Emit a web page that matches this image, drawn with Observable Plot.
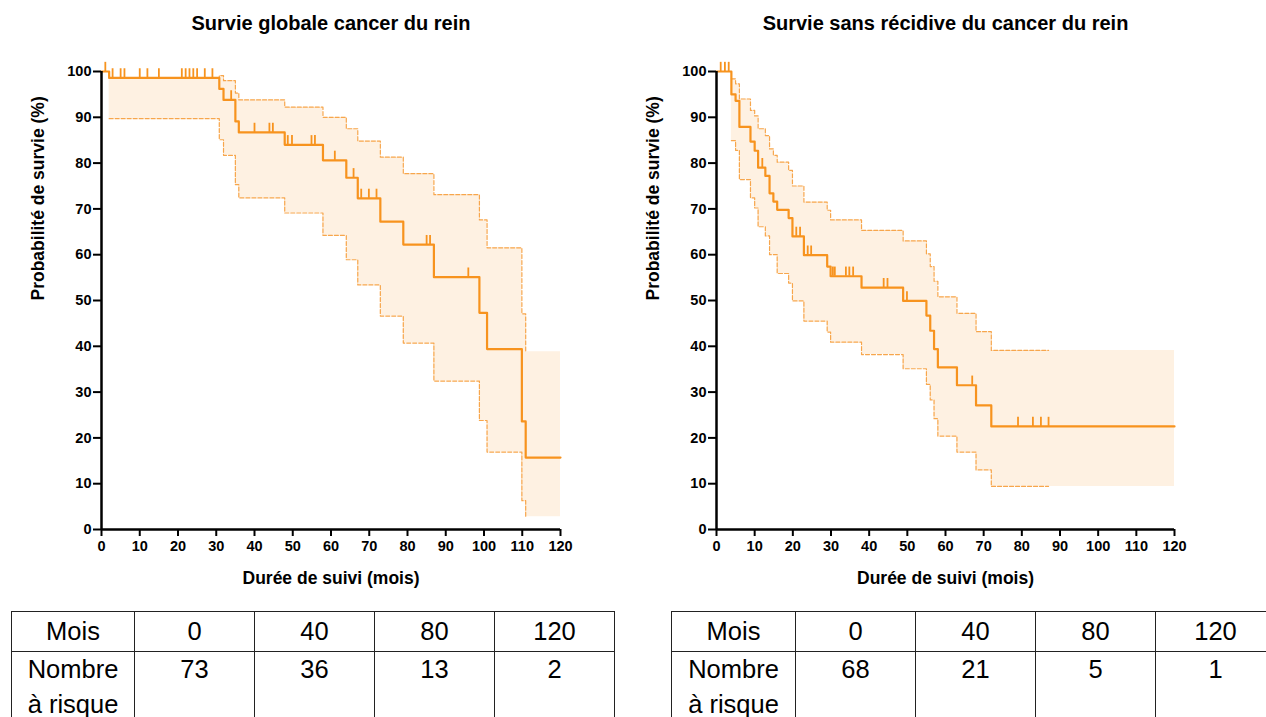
<!DOCTYPE html>
<html><head><meta charset="utf-8">
<script src="https://cdn.jsdelivr.net/npm/d3@7"></script>
<script src="https://cdn.jsdelivr.net/npm/@observablehq/plot@0.6"></script>
<style>
html,body{margin:0;padding:0;background:#fff;}
#page{position:relative;width:1266px;height:717px;overflow:hidden;font-family:"Liberation Sans",Arial,sans-serif;}
.chart{position:absolute;top:0;}
table.risk{position:absolute;top:611px;border-collapse:collapse;font-size:25.5px;table-layout:fixed;color:#000;}
table.risk td{border:1px solid #222;text-align:center;vertical-align:top;padding:0;}
table.risk tr.h td{height:39px;line-height:39px;}
table.risk tr.n td{height:90px;line-height:35px;}
</style></head><body><div id="page"></div>
<script>
// ---------- Data ----------
const xTicks = [0,10,20,30,40,50,60,70,80,90,100,110,120];
const yTicks = [0,10,20,30,40,50,60,70,80,90,100];
const xLabel = "Durée de suivi (mois)";
const yLabel = "Probabilité de survie (%)";

// Survie globale
const osTitle = "Survie globale cancer du rein";
const osTime = [0, 2.0, 30.8, 31.9, 35.0, 35.9, 47.9, 57.9, 64.0, 67.0, 72.9, 78.9, 86.9, 98.8, 100.8, 109.9, 110.9, 120];
const osSurv = [100, 98.6, 96.2, 93.8, 89.1, 86.7, 84.0, 80.6, 76.8, 72.3, 67.2, 62.2, 55.1, 47.3, 39.4, 23.6, 15.7, 15.7];
const osCiTime = [2.0, 30.8, 31.9, 35.0, 35.9, 47.9, 57.9, 64.0, 67.0, 72.9, 78.9, 86.9, 98.8, 100.8, 109.9, 110.9, 120];
const osCiHigh = [98.6, 99.1, 98.0, 95.3, 93.8, 92.2, 90.0, 87.5, 84.8, 81.3, 77.7, 73.1, 67.6, 61.5, 47.1, 38.8, 38.8];
const osCiLow  = [89.7, 85.1, 81.7, 75.3, 72.4, 69.1, 64.2, 58.9, 53.4, 46.6, 40.7, 32.4, 23.8, 16.9, 6.3, 2.8, 2.8];
const osCensored = [1.0, 2.9, 5.0, 6.0, 10.0, 12.0, 15.0, 21.0, 22.0, 23.0, 24.0, 25.0, 27.0, 29.0, 33.9, 40.0, 43.9, 44.8, 48.7, 49.8, 54.9, 55.8, 61.0, 65.9, 67.9, 69.9, 71.9, 85.0, 85.9, 95.9];

// Survie sans récidive
const rfsTitle = "Survie sans récidive du cancer du rein";
const rfsTime = [0, 3.9, 5.0, 6.0, 8.9, 10.0, 10.9, 12.8, 13.9, 14.9, 15.9, 18.9, 19.9, 22.9, 29.0, 29.9, 38.0, 48.9, 55.0, 56.0, 57.0, 58.0, 63.0, 68.0, 72.0, 120];
const rfsSurv = [100, 95.0, 93.6, 87.9, 84.7, 82.7, 79.0, 77.2, 73.4, 71.6, 69.8, 68.0, 64.0, 59.9, 57.4, 55.3, 52.8, 49.9, 46.7, 43.4, 39.4, 35.4, 31.5, 27.1, 22.5, 22.5];
const rfsCiTime = [3.9, 5.0, 6.0, 8.9, 10.0, 10.9, 12.8, 13.9, 14.9, 15.9, 18.9, 19.9, 22.9, 29.0, 29.9, 38.0, 48.9, 55.0, 56.0, 57.0, 58.0, 63.0, 68.0, 72.0, 87.0, 120];
const rfsCiHigh = [98.4, 97.3, 94.0, 91.5, 90.3, 87.5, 86.0, 83.1, 81.7, 80.2, 78.4, 75.0, 71.5, 69.7, 67.6, 65.3, 63.0, 60.2, 57.4, 54.2, 50.8, 47.2, 43.2, 39.1, 39.1, 39.1];
const rfsCiLow  = [84.9, 82.8, 76.4, 72.4, 70.2, 66.1, 64.1, 60.0, 60.0, 55.9, 53.8, 49.9, 45.5, 43.1, 40.9, 38.2, 35.1, 31.7, 28.3, 24.2, 20.4, 16.9, 13.0, 9.4, 9.4, 9.4];
const rfsCensored = [1.1, 2.2, 3.2, 12.0, 20.9, 21.9, 23.9, 24.8, 30.5, 31.0, 33.9, 34.8, 35.8, 43.8, 44.8, 49.9, 67.0, 79.0, 82.9, 85.0, 87.0];

// Tableaux "Nombre à risque"
const riskMonths = [0, 40, 80, 120];
const osAtRisk = [73, 36, 13, 2];
const rfsAtRisk = [68, 21, 5, 1];

// ---------- Styles ----------
const MAIN = "#F7931E";
const FILL = "#FEF1E2";
const DASH = "#F7A64C";
const FONT = "'Liberation Sans', Arial, sans-serif";

function kmChart({title, time, surv, ciTime, ciLow, ciHigh, censored, marginLeft, marginRight}) {
  const curve = time.map((t, i) => ({t, s: surv[i]}));
  const band = ciTime.map((t, i) => ({t, lo: ciLow[i], hi: ciHigh[i]}));
  const dashed = band.slice(0, -1);
  const bis = d3.bisector(d => d.t).right;
  const cens = censored.map(t => ({t, s: curve[bis(curve, t) - 1].s}));
  return Plot.plot({
    width: 633, height: 600,
    marginLeft, marginRight, marginTop: 71, marginBottom: 71,
    x: {domain: [0, 120]},
    y: {domain: [0, 100]},
    style: {fontFamily: FONT, background: "white", color: "black"},
    marks: [
      Plot.areaY(band, {x: "t", y1: "lo", y2: "hi", curve: "step-after", fill: FILL}),
      Plot.line(dashed, {x: "t", y: "hi", curve: "step-after", stroke: DASH, strokeWidth: 1.2, strokeDasharray: "4,2"}),
      Plot.line(dashed, {x: "t", y: "lo", curve: "step-after", stroke: DASH, strokeWidth: 1.2, strokeDasharray: "4,2"}),
      Plot.line(curve, {x: "t", y: "s", curve: "step-after", stroke: MAIN, strokeWidth: 2.2}),
      Plot.ruleX(cens, {x: "t", y1: "s", y2: d => d.s + 2, stroke: MAIN, strokeWidth: 1.8}),
      Plot.axisX({ticks: xTicks, tickSize: 7, strokeWidth: 2, tickPadding: 4, fontSize: 14.5, fontWeight: "bold", label: null}),
      Plot.axisY({ticks: yTicks, tickSize: 8, strokeWidth: 2, tickPadding: 2, fontSize: 14.5, fontWeight: "bold", label: null}),
      Plot.ruleX([0], {stroke: "black", strokeWidth: 2.5}),
      Plot.ruleY([0], {stroke: "black", strokeWidth: 2.5}),
      Plot.text([title], {frameAnchor: "top", lineAnchor: "middle", dy: -48, fontSize: 20, fontWeight: "bold"}),
      Plot.text([xLabel], {frameAnchor: "bottom", lineAnchor: "middle", dy: 49, fontSize: 17.5, fontWeight: "bold"}),
      Plot.text([yLabel], {frameAnchor: "left", lineAnchor: "middle", dx: -63, rotate: -90, fontSize: 17.5, fontWeight: "bold"})
    ]
  });
}

const page = document.getElementById("page");

const left = kmChart({title: osTitle, time: osTime, surv: osSurv, ciTime: osCiTime, ciLow: osCiLow, ciHigh: osCiHigh, censored: osCensored, marginLeft: 101, marginRight: 73});
left.classList.add("chart"); left.style.left = "0px";
page.appendChild(left);

const right = kmChart({title: rfsTitle, time: rfsTime, surv: rfsSurv, ciTime: rfsCiTime, ciLow: rfsCiLow, ciHigh: rfsCiHigh, censored: rfsCensored, marginLeft: 83, marginRight: 92});
right.classList.add("chart"); right.style.left = "633px";
page.appendChild(right);

function riskTable(leftPx, firstCol, counts) {
  const table = d3.select(page).append("table").attr("class", "risk").style("left", leftPx + "px");
  const cg = table.append("colgroup");
  cg.append("col").style("width", firstCol + "px");
  riskMonths.forEach(() => cg.append("col").style("width", "120px"));
  const r1 = table.append("tr").attr("class", "h");
  r1.append("td").text("Mois");
  riskMonths.forEach(m => r1.append("td").text(m));
  const r2 = table.append("tr").attr("class", "n");
  r2.append("td").html("Nombre<br>à risque");
  counts.forEach(c => r2.append("td").text(c));
  table.style("width", (firstCol + 120 * riskMonths.length) + "px");
}
riskTable(11, 123, osAtRisk);
riskTable(671, 124, rfsAtRisk);
</script></body></html>
